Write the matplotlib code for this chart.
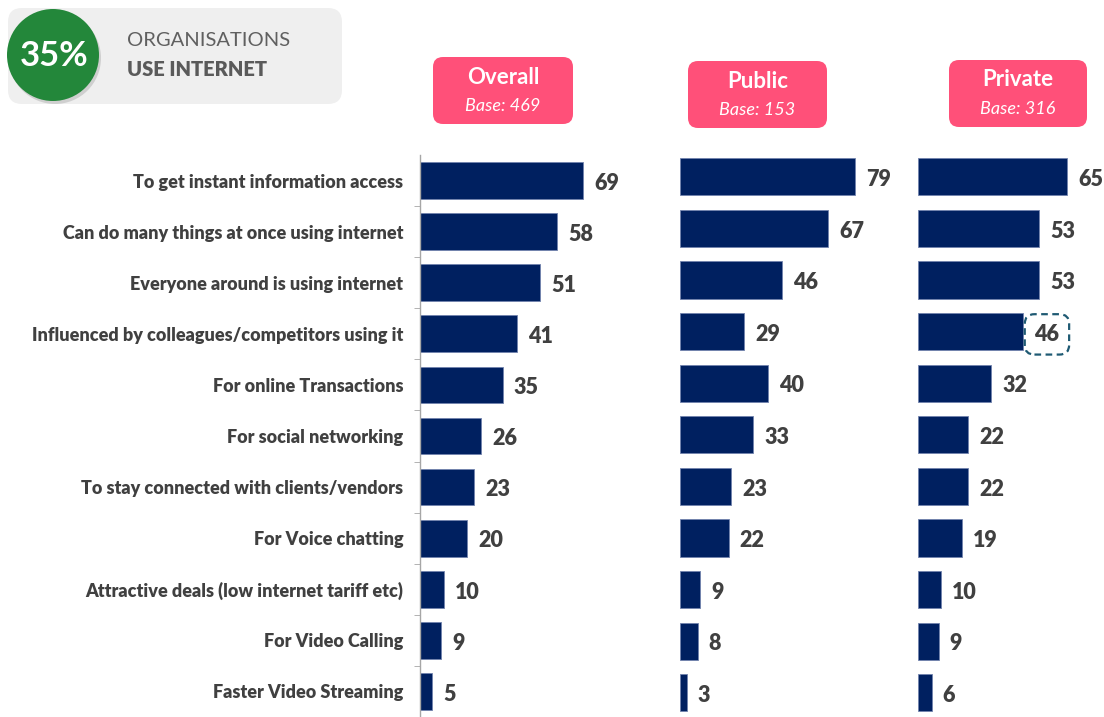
import numpy as np
import matplotlib.pyplot as plt
from matplotlib.patches import FancyBboxPatch, Circle

plt.rcParams['font.family'] = ['Lato', 'DejaVu Sans']

reasons = ["To get instant information access",
           "Can do many things at once using internet",
           "Everyone around is using internet",
           "Influenced by colleagues/competitors using it",
           "For online Transactions",
           "For social networking",
           "To stay connected with clients/vendors",
           "For Voice chatting",
           "Attractive deals (low internet tariff etc)",
           "For Video Calling",
           "Faster Video Streaming"]
overall = [69, 58, 51, 41, 35, 26, 23, 20, 10, 9, 5]
public = [79, 67, 46, 29, 40, 33, 23, 22, 9, 8, 3]
private = [65, 53, 53, 46, 32, 22, 22, 19, 10, 9, 6]
groups = ["Overall", "Public", "Private"]
bases = [469, 153, 316]

W, H = 1104, 717
navy = '#002060'
txt = '#404040'
pink = '#FF5079'

fig = plt.figure(figsize=(W / 100, H / 100), dpi=100)

# overlay in pixel units for boxes / badge
bg = fig.add_axes([0, 0, 1, 1])
bg.set_xlim(0, W)
bg.set_ylim(H, 0)
bg.axis('off')

# badge top-left
bg.add_patch(FancyBboxPatch((20, 20), 310, 72, boxstyle='round,pad=12,rounding_size=14',
                            fc='#EFEFEF', ec='none'))
bg.add_patch(Circle((55, 58), 46, fc='#BBBBBB', ec='none', alpha=0.6))
bg.add_patch(Circle((53, 55), 46, fc='#23873A', ec='none'))
bg.text(54, 56, "35%", color='white', fontsize=25, fontweight='bold', ha='center', va='center')
bg.text(127, 40, "ORGANISATIONS", color='#606060', fontsize=14.5, fontweight='normal',
        ha='left', va='center')
bg.text(127, 69, "USE INTERNET", color='#5A5A5A', fontsize=14.5, fontweight='heavy',
        ha='left', va='center')

# group headers
hdr = [(433, 57, 140, 67), (688, 61, 139, 67), (949, 60, 138, 67)]
for (x, y, w, h), g, b in zip(hdr, groups, bases):
    bg.add_patch(FancyBboxPatch((x + 8, y + 8), w - 16, h - 16,
                                boxstyle='round,pad=8,rounding_size=10', fc=pink, ec='none'))
    bg.text(x + w / 2, y + 20, g, color='white', fontsize=16, fontweight='bold',
            ha='center', va='center')
    bg.text(x + w / 2, y + 49, f"Base: {b}", color='white', fontsize=13, style='italic',
            ha='center', va='center')

# bar panels: (left px, width px, px per unit, top px of first row)
panels = [(420, 200, 2.36, 155, overall),
          (680, 220, 2.21, 151, public),
          (918, 180, 2.29, 151, private)]
row = 51.6
y = np.arange(len(reasons))

for k, (x0, wpx, scale, top, vals) in enumerate(panels):
    bottom_row = (H - top) / row - 0.5
    ax = fig.add_axes([x0 / W, 0, wpx / W, 1 - top / H])
    ax.barh(y, vals, height=0.72, color=navy, edgecolor='#7183AD', linewidth=0.6)
    ax.set_xlim(0, wpx / scale)
    ax.set_ylim(bottom_row, -0.5)
    ax.patch.set_alpha(0)
    for s in ['top', 'right', 'bottom']:
        ax.spines[s].set_visible(False)
    ax.set_xticks([])
    if k == 0:
        ax.spines['left'].set_color('#A6A6A6')
        ax.spines['left'].set_linewidth(1)
        ax.set_yticks(y)
        ax.set_yticklabels(reasons, fontsize=13, fontweight='heavy', color=txt)
        ax.tick_params(axis='y', which='major', length=0, pad=12)
        ax.set_yticks(np.arange(len(reasons)) + 0.5, minor=True)
        ax.tick_params(axis='y', which='minor', length=4, color='#A6A6A6', direction='out')
    else:
        ax.spines['left'].set_visible(False)
        ax.set_yticks([])
    for i, v in enumerate(vals):
        kw = {}
        if k == 2 and i == 3:
            kw['bbox'] = dict(boxstyle='round,pad=0.45,rounding_size=0.45', fc='none',
                              ec='#1F5A73', lw=1.6, ls=(0, (3, 2)))
        ax.annotate(str(v), (v, i), xytext=(8, -2), textcoords='offset points',
                    ha='left', va='center', fontsize=15.5, fontweight='heavy', color=txt,
                    annotation_clip=False, **kw)

fig.savefig('out.png', dpi=100)
